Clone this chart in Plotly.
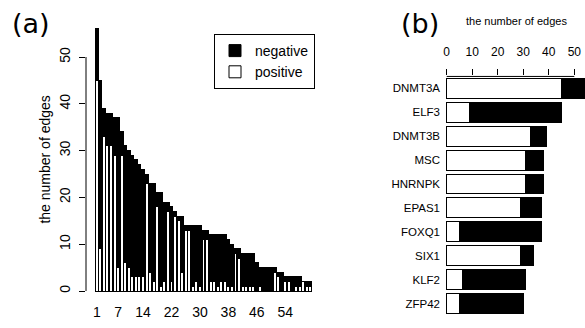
import plotly.graph_objects as go

W, H = 585, 328

# ---- panel (a) data ----
bar_index = list(range(1, 62))
positive_a = [45, 9, 33, 31, 31, 29, 5, 29, 6, 5,
              3, 3, 3, 3, 23, 4, 2, 18, 1, 2,
              17, 2, 16, 15, 4, 13, 13, 1, 2, 1,
              11, 11, 2, 2, 1, 2, 2, 1, 1, 8,
              7, 1, 1, 1, 1, 0, 1, 0, 0, 0,
              4, 3, 0, 2, 2, 0, 1, 1, 2, 1,
              1]
negative_a = [11, 36, 6, 7, 7, 8, 32, 5, 25, 25,
              26, 25, 24, 23, 2, 19, 21, 3, 20, 17,
              2, 16, 1, 1, 12, 1, 1, 13, 12, 13,
              2, 2, 10, 10, 11, 10, 10, 10, 9, 1,
              2, 7, 7, 7, 7, 6, 4, 5, 5, 5,
              1, 1, 4, 1, 1, 3, 2, 2, 0, 1,
              1]
x_tick_labels_a = [1, 7, 14, 22, 30, 38, 46, 54]
y_ticks_a = [0, 10, 20, 30, 40, 50]

# ---- panel (b) data ----
genes_b = ["DNMT3A", "ELF3", "DNMT3B", "MSC", "HNRNPK",
           "EPAS1", "FOXQ1", "SIX1", "KLF2", "ZFP42"]
positive_b = [45, 9, 33, 31, 31, 29, 5, 29, 6, 5]
negative_b = [11, 36, 6, 7, 7, 8, 32, 5, 25, 25]
x_ticks_b = [0, 10, 20, 30, 40, 50]

SANS = "Liberation Sans, Arial, sans-serif"
LINE = dict(color="black", width=1)

fig = go.Figure()
fig.add_trace(go.Bar(x=bar_index, y=positive_a, name="positive",
                     marker=dict(color="white", line=LINE),
                     xaxis="x", yaxis="y"))
fig.add_trace(go.Bar(x=bar_index, y=negative_a, name="negative",
                     marker=dict(color="black", line=LINE),
                     xaxis="x", yaxis="y"))
fig.add_trace(go.Bar(y=genes_b, x=positive_b, orientation="h", showlegend=False,
                     marker=dict(color="white", line=LINE),
                     xaxis="x2", yaxis="y2"))
fig.add_trace(go.Bar(y=genes_b, x=negative_b, orientation="h", showlegend=False,
                     marker=dict(color="black", line=LINE),
                     xaxis="x2", yaxis="y2"))

# pixel geometry helpers
def px(xp):
    return xp / W

def py(yp):
    return 1 - yp / H

def label(text, x, y, size, family=SANS, angle=0):
    return dict(text=text, x=px(x), y=py(y), xref="paper", yref="paper",
                xanchor="center", yanchor="middle", showarrow=False,
                textangle=angle, font=dict(family=family, size=size, color="black"))

fig.update_layout(
    template="none",
    width=W, height=H,
    margin=dict(l=0, r=0, t=0, b=0),
    paper_bgcolor="white", plot_bgcolor="white",
    barmode="stack", bargap=0.17,
    font=dict(family=SANS, color="black", size=14),
    showlegend=True,
    legend=dict(x=px(214), y=py(34), xanchor="left", yanchor="top",
                bordercolor="black", borderwidth=1, bgcolor="white",
                traceorder="reversed", font=dict(size=14, family=SANS),
                itemwidth=30),
    xaxis=dict(domain=[px(86), px(320.5)], range=[-2.03, 63.89],
               tickvals=x_tick_labels_a, ticktext=[str(v) for v in x_tick_labels_a],
               showline=False, ticks="", showgrid=False, zeroline=False,
               tickfont=dict(size=14), anchor="y"),
    yaxis=dict(domain=[py(301.5), py(17.8)], range=[-2.24, 58.38],
               tickvals=y_ticks_a, ticks="outside", ticklen=6, tickcolor="black",
               tickangle=-90, showline=False, showgrid=False, zeroline=False,
               tickfont=dict(size=14), anchor="x", ticklabelstandoff=3),
    xaxis2=dict(domain=[px(441), 1.0], range=[-2.23, 54.19], side="top",
                tickvals=x_ticks_b, ticks="outside", ticklen=6, tickcolor="black",
                showline=False, showgrid=False, zeroline=False,
                tickfont=dict(size=12), anchor="y2", ticklabelstandoff=9),
    yaxis2=dict(domain=[py(315.45), py(76.45)], categoryorder="array",
                categoryarray=genes_b, range=[9.5, -0.5], ticks="",
                showline=False, showgrid=False, zeroline=False,
                tickfont=dict(size=11.5), anchor="x2"),
    shapes=[
        dict(type="line", xref="paper", yref="y", x0=px(86), x1=px(86), y0=0, y1=50,
             line=dict(color="black", width=1)),
        dict(type="line", xref="x2", yref="paper", x0=0, x1=50, y0=py(76.45), y1=py(76.45),
             line=dict(color="black", width=1)),
    ],
    annotations=[
        label("(a)", 31, 24, 27, family="DejaVu Sans"),
        label("(b)", 420, 24, 27, family="DejaVu Sans"),
        label("the number of edges", 45, 159.6, 14, angle=-90),
        label("the number of edges", 516, 21, 11),
    ],
)

fig.write_html("out.html")
